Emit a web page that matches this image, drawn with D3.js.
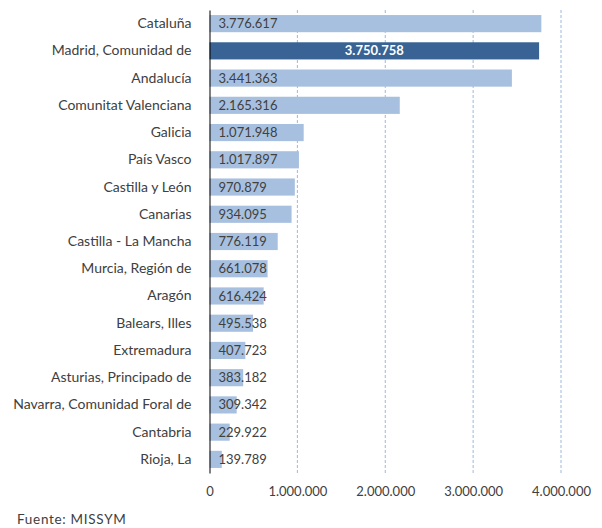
<!DOCTYPE html>
<html>
<head>
<meta charset="utf-8">
<script src="https://cdn.jsdelivr.net/npm/d3@7"></script>
<style>
  body { margin: 0; background: #fff; }
  svg { display: block; font-family: Lato, "Open Sans", sans-serif; }
</style>
</head>
<body>
<div id="chart"></div>
<script>
const regions = [
  "Cataluña", "Madrid, Comunidad de", "Andalucía", "Comunitat Valenciana",
  "Galicia", "País Vasco", "Castilla y León", "Canarias",
  "Castilla - La Mancha", "Murcia, Región de", "Aragón", "Balears, Illes",
  "Extremadura", "Asturias, Principado de", "Navarra, Comunidad Foral de",
  "Cantabria", "Rioja, La"
];
const values = [
  3776617, 3750758, 3441363, 2165316, 1071948, 1017897, 970879, 934095,
  776119, 661078, 616424, 495538, 407723, 383182, 309342, 229922, 139789
];
const xTicks = [0, 1000000, 2000000, 3000000, 4000000];
const highlight = "Madrid, Comunidad de";
const source = "Fuente: MISSYM";

const data = regions.map((r, i) => ({ region: r, value: values[i] }));
const fmt = v => d3.format(",")(v).replace(/,/g, ".");

const width = 602, height = 528;
const margin = { top: 10, right: 41, bottom: 55, left: 209.5 };
const w = width - margin.left - margin.right,
      h = height - margin.top - margin.bottom;

const svg = d3.select("#chart").append("svg")
    .attr("width", width)
    .attr("height", height);
const g = svg.append("g")
    .attr("transform", `translate(${margin.left},${margin.top})`);

const x = d3.scaleLinear().domain([0, 4000000]).range([0, w]);
const y = d3.scaleBand().domain(regions).range([0, h]).paddingInner(0.37).paddingOuter(0.185);

// gridlines
g.selectAll("line.grid")
  .data(xTicks.slice(1))
  .join("line")
    .attr("class", "grid")
    .attr("x1", d => x(d)).attr("x2", d => x(d))
    .attr("y1", 0).attr("y2", h)
    .attr("stroke", "#9db8de")
    .attr("stroke-width", 1)
    .attr("stroke-dasharray", "3,2");

g.selectAll("rect.bar")
  .data(data)
  .join("rect")
    .attr("class", "bar")
    .attr("x", x(0))
    .attr("y", d => y(d.region))
    .attr("width", d => x(d.value))
    .attr("height", y.bandwidth())
    .attr("fill", d => d.region === highlight ? "#386394" : "#a8c0df");

// value labels
g.selectAll("text.val")
  .data(data)
  .join("text")
    .attr("class", "val")
    .attr("x", d => d.region === highlight ? x(d.value) / 2 : 9)
    .attr("y", d => y(d.region) + y.bandwidth() / 2)
    .attr("dy", "0.35em")
    .attr("text-anchor", d => d.region === highlight ? "middle" : "start")
    .attr("font-size", 13)
    .attr("font-weight", d => d.region === highlight ? "bold" : "normal")
    .attr("fill", d => d.region === highlight ? "#ffffff" : "#404040")
    .text(d => fmt(d.value));

// y axis
const yAxis = g.append("g").call(d3.axisLeft(y).tickSize(0).tickPadding(18));
yAxis.select(".domain").attr("stroke", "#000").attr("stroke-width", 1);
yAxis.selectAll("text").attr("font-size", 14).attr("fill", "#404040")
    .attr("font-family", "Lato, sans-serif");

// x axis
const xAxis = g.append("g")
    .attr("transform", `translate(0,${h})`)
    .call(d3.axisBottom(x).tickValues(xTicks).tickSize(0).tickPadding(14).tickFormat(fmt));
xAxis.select(".domain").remove();
xAxis.selectAll("text").attr("font-size", 13).attr("fill", "#404040")
    .attr("font-family", "Lato, sans-serif");

svg.append("text")
    .attr("x", 17)
    .attr("y", 524)
    .attr("font-size", 13.5)
    .attr("letter-spacing", 0.7)
    .attr("fill", "#404040")
    .text(source);
</script>
</body>
</html>
